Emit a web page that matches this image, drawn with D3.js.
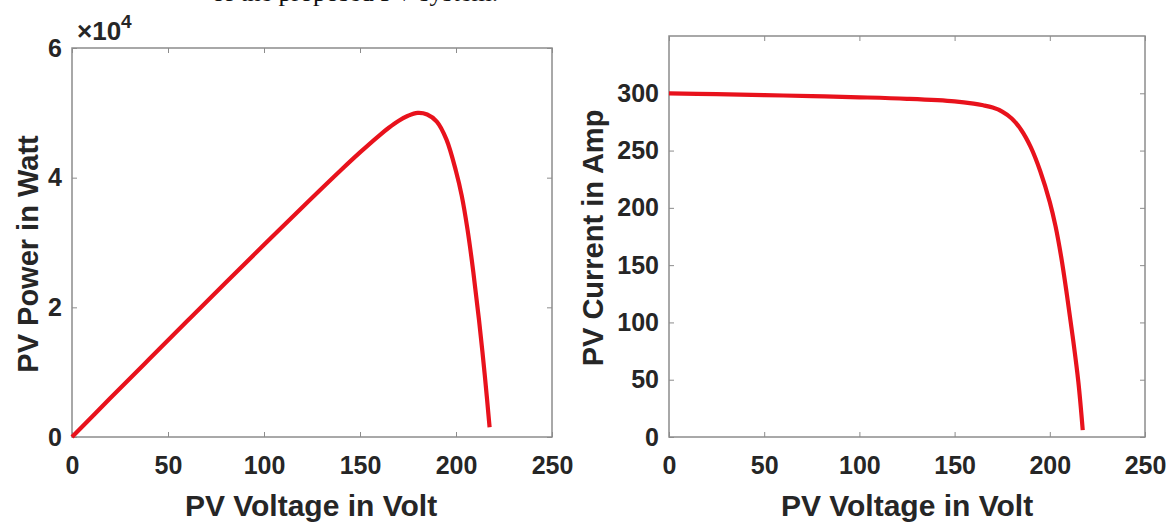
<!DOCTYPE html>
<html>
<head>
<meta charset="utf-8">
<script src="https://cdn.jsdelivr.net/npm/d3@7"></script>
<style>
  html, body { margin: 0; padding: 0; background: #fff; }
  svg { display: block; }
  .tick text { font-family: "Liberation Sans", Arial, sans-serif; font-weight: bold; fill: #262626; }
  .title { font-family: "Liberation Sans", Arial, sans-serif; font-weight: bold; fill: #262626; }
</style>
</head>
<body>
<svg id="chart" width="1176" height="524"></svg>
<script>
// PV module characteristics: voltage sweep with resulting power and current
const voltagePV = [0, 20, 40, 60, 80, 100, 120, 140, 150, 160, 165, 170, 175, 180, 185, 190, 195, 200, 203, 206, 209, 212, 215, 217.5];
const power     = [0, 6000, 11950, 17880, 23790, 29650, 35450, 41150, 43900, 46500, 47700, 48750, 49550, 50000, 49750, 48650, 45900, 41000, 37200, 32000, 25500, 18000, 9500, 1500];

const voltageIV = [0, 25, 50, 75, 100, 125, 150, 160, 165, 170, 175, 180, 185, 190, 195, 200, 203, 206, 209, 212, 215, 217.3];
const current   = [300, 299.2, 298.4, 297.5, 296.5, 295.2, 293, 291, 289.5, 287.5, 284, 278, 268, 253, 232, 205, 184, 157, 124, 88, 48, 6];

const voltageTicks = [0, 50, 100, 150, 200, 250];
const powerTicks = [0, 20000, 40000, 60000];
const currentTicks = [0, 50, 100, 150, 200, 250, 300];

const svg = d3.select("#chart");
const axisGray = "#8c8c8c";
const lineRed = "#e8121c";

// caption line from the surrounding document, mostly above the frame
svg.append("text")
  .attr("x", 212).attr("y", 1)
  .style("font-family", "'Liberation Serif', 'Times New Roman', serif")
  .style("font-size", "26px").style("fill", "#111")
  .text("of the proposed PV system.");

function panel(opts) {
  const { left, right, top, bottom, yDomain, yTicks, yFormat, xData, yData, yTitle, xTitleX, yTitleX, yTitleY } = opts;
  const g = svg.append("g");
  const x = d3.scaleLinear().domain([0, 250]).range([left, right]);
  const y = d3.scaleLinear().domain(yDomain).range([bottom, top]);

  // frame
  g.append("rect")
    .attr("x", left).attr("y", top)
    .attr("width", right - left).attr("height", bottom - top)
    .attr("fill", "none").attr("stroke", axisGray).attr("stroke-width", 1.5);

  const styleAxis = sel => {
    sel.select(".domain").remove();
    sel.selectAll(".tick line").attr("stroke", axisGray).attr("stroke-width", 1);
    sel.selectAll(".tick text").style("font-size", "25px");
  };

  // bottom axis with inward ticks
  g.append("g").attr("transform", `translate(0,${bottom})`)
    .call(d3.axisBottom(x).tickValues(voltageTicks).tickSizeInner(-5).tickSizeOuter(0).tickPadding(19).tickFormat(d3.format("d")))
    .call(styleAxis);
  // mirrored top ticks
  g.append("g").attr("transform", `translate(0,${top})`)
    .call(d3.axisTop(x).tickValues(voltageTicks).tickSizeInner(-5).tickSizeOuter(0).tickFormat(""))
    .call(styleAxis);
  // left axis
  g.append("g").attr("transform", `translate(${left},0)`)
    .call(d3.axisLeft(y).tickValues(yTicks).tickSizeInner(-5).tickSizeOuter(0).tickPadding(10).tickFormat(yFormat))
    .call(styleAxis);
  // mirrored right ticks
  g.append("g").attr("transform", `translate(${right},0)`)
    .call(d3.axisRight(y).tickValues(yTicks).tickSizeInner(-5).tickSizeOuter(0).tickFormat(""))
    .call(styleAxis);

  // curve
  const line = d3.line()
    .x((d, i) => x(xData[i]))
    .y(d => y(d))
    .curve(d3.curveCatmullRom.alpha(0.5));
  g.append("path")
    .datum(yData)
    .attr("d", line)
    .attr("fill", "none")
    .attr("stroke", lineRed)
    .attr("stroke-width", 4.2)
    .attr("stroke-linejoin", "round");

  // axis titles
  g.append("text").attr("class", "title")
    .attr("x", xTitleX).attr("y", 516)
    .attr("text-anchor", "middle")
    .style("font-size", "30px")
    .text("PV Voltage in Volt");
  g.append("text").attr("class", "title")
    .attr("transform", `translate(${yTitleX},${yTitleY}) rotate(-90)`)
    .attr("text-anchor", "middle")
    .style("font-size", "29px")
    .text(yTitle);
  return g;
}

const left = panel({
  left: 72, right: 552, top: 48, bottom: 437,
  yDomain: [0, 60000], yTicks: powerTicks,
  yFormat: d => d3.format("d")(d / 10000),
  xData: voltagePV, yData: power, yTitle: "PV Power in Watt",
  xTitleX: 311, yTitleX: 38, yTitleY: 254
});

// exponent marker for the power axis
const expo = left.append("text").attr("class", "title")
  .attr("x", 77).attr("y", 40).style("font-size", "26px");
expo.append("tspan").text("\u00d710");
expo.append("tspan").attr("dy", -12).style("font-size", "19px").text("4");

panel({
  left: 669, right: 1145, top: 36, bottom: 437,
  yDomain: [0, 350], yTicks: currentTicks,
  yFormat: d3.format("d"),
  xData: voltageIV, yData: current, yTitle: "PV Current in Amp",
  xTitleX: 907, yTitleX: 603, yTitleY: 238
});
</script>
</body>
</html>
